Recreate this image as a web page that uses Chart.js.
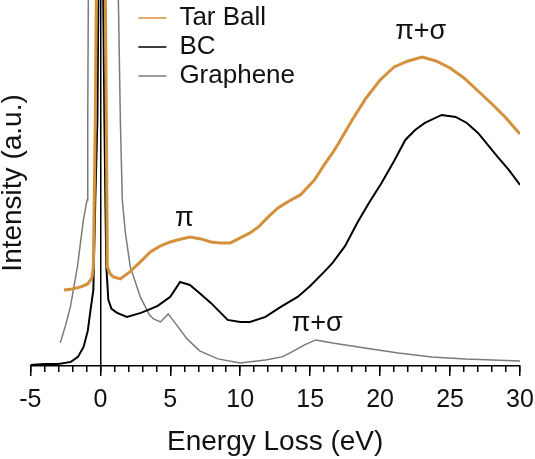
<!DOCTYPE html>
<html>
<head>
<meta charset="utf-8">
<script src="https://cdn.jsdelivr.net/npm/chart.js@4"></script>
<style>
  body { margin: 0; background: #fff; }
  #wrap { width: 535px; height: 459px; }
</style>
</head>
<body>
<div id="wrap"><canvas id="eelsChart"></canvas></div>
<script>
// spectra (energy loss in eV, intensity in a.u.)
const seriesNames = ["Tar Ball", "BC", "Graphene"];

const tarBallEv = [-2.6, -2.0, -1.4, -0.9, -0.6, -0.5, -0.36, -0.29, 0.05, 0.36, 0.43, 0.5, 0.7, 0.93, 1.43, 2.1, 2.86, 3.57, 4.3, 5, 5.5, 6.4, 7.2, 7.9, 8.6, 9.3, 10, 10.7, 11.3, 12, 12.7, 13.5, 14.3, 15.3, 16, 16.6, 17, 18, 19, 20, 21, 22, 23, 24, 25, 26, 27, 28, 29, 30];
const tarBallInt = [76, 77, 79, 82, 88, 99, 246, 366, 4000, 366, 246, 99, 92, 89, 87, 94, 104, 114, 120, 124, 126, 129, 127, 124, 123, 123, 128, 133, 139, 149, 158, 165, 171, 186, 201, 213, 222, 246, 268, 286, 299, 305, 309, 305, 298, 288, 275, 262, 248, 232];

const bcEv = [-5, -4, -3, -2.1, -1.6, -1.2, -0.9, -0.7, -0.5, -0.36, -0.21, -0.14, 0.03, 0.21, 0.29, 0.36, 0.43, 0.57, 0.8, 1.2, 1.9, 2.9, 3.6, 4.1, 5, 5.7, 6.4, 7, 7.9, 9.1, 10, 10.7, 11.8, 12.9, 14.1, 15, 16, 16.6, 17.5, 18.4, 19.2, 20.1, 21, 21.8, 22.5, 23.2, 24.4, 25.4, 26.2, 27, 28.4, 29.2, 30];
const bcInt = [1, 2, 2, 4, 9, 19, 35, 56, 76, 166, 246, 366, 5000, 366, 246, 166, 99, 66, 57, 53, 49, 53, 57, 60, 69, 84, 81, 74, 63, 46, 44, 44, 49, 59, 69, 80, 94, 103, 120, 144, 163, 183, 205, 226, 236, 243, 251, 249, 243, 233, 209, 196, 181];

const grapheneEv = [-2.86, -2.5, -2.14, -1.64, -1.21, -0.95, -0.9, -0.86, 0.2, 1.29, 1.43, 1.57, 1.79, 2.14, 2.86, 3.5, 3.8, 4.3, 4.85, 5.5, 6.2, 7.1, 8.4, 10, 11.8, 13, 13.7, 14.6, 15.4, 16.6, 18.9, 21.3, 23.7, 26.1, 30];
const grapheneInt = [23, 40, 59, 99, 146, 166, 250, 366, 4000, 366, 246, 166, 133, 99, 69, 51, 47, 44, 52, 40, 27, 15, 7, 3, 6, 9, 14, 21, 26, 23, 18, 13, 9, 7, 5];

const xTickStep = 5;
const peakTexts = ["π", "π+σ", "π+σ"];
const peakEv = [6.0, 22.9, 15.5];
const peakInt = [147, 334, 42];

const toPoints = (ev, vals) => ev.map((e, i) => ({ x: e, y: vals[i] }));

const FONT = '"Liberation Sans", Arial, Helvetica, sans-serif';
Chart.defaults.font.family = FONT;
Chart.defaults.color = "#111";

// the legend sits inside the plot, right of the zero-loss peak
const legendShift = {
    id: "legendShift",
    afterLayout(chart) {
        chart.legend.left += 105;
        chart.legend.top += 2;
    }
};

const peakLabels = {
    id: "peakLabels",
    afterDatasetsDraw(chart) {
        const { ctx, scales: { x, y } } = chart;
        ctx.save();
        ctx.font = "27px " + FONT;
        ctx.fillStyle = "#111";
        ctx.textAlign = "center";
        ctx.textBaseline = "middle";
        peakTexts.forEach((t, i) => {
            ctx.fillText(t, x.getPixelForValue(peakEv[i]), y.getPixelForValue(peakInt[i]));
        });
        ctx.restore();
    }
};

const lineSet = (label, ev, vals, color, width) => ({
    label,
    data: toPoints(ev, vals),
    borderColor: color,
    backgroundColor: color,
    borderWidth: width,
    pointRadius: 0,
    tension: 0,
    fill: false,
    xAxisID: "x",
    yAxisID: "y",
});

new Chart(document.getElementById("eelsChart"), {
    type: "line",
    data: {
        datasets: [
            lineSet(seriesNames[0], tarBallEv, tarBallInt, "#D4913C", 3),
            lineSet(seriesNames[1], bcEv, bcInt, "#000000", 2),
            lineSet(seriesNames[2], grapheneEv, grapheneInt, "#7a7a7a", 1.5),
        ]
    },
    options: {
        responsive: true,
        maintainAspectRatio: false,
        animation: false,
        layout: { padding: { left: 2, right: 15, top: 0, bottom: 0 } },
        plugins: {
            tooltip: { enabled: false },
            legend: {
                position: "chartArea",
                align: "start",
                labels: {
                    font: { size: 26 },
                    color: "#111",
                    padding: 3,
                    usePointStyle: true,
                    pointStyle: "line",
                    pointStyleWidth: 28,
                    generateLabels(chart) {
                        return Chart.defaults.plugins.legend.labels.generateLabels(chart)
                            .map(item => ({ ...item, lineWidth: 1.5 }));
                    }
                }
            }
        },
        scales: {
            x: {
                type: "linear",
                position: "bottom",
                min: -5,
                max: 30,
                grid: { drawOnChartArea: false, tickLength: 10, color: "#000", lineWidth: 1.5 },
                border: { color: "#000", width: 1.5 },
                ticks: { stepSize: xTickStep, padding: 0, font: { size: 25, lineHeight: 1.9 }, color: "#111" },
                title: {
                    display: true,
                    text: "Energy Loss (eV)",
                    font: { size: 28 },
                    color: "#111",
                    padding: { top: 2, bottom: 0 }
                }
            },
            // minor ticks every 1 eV
            xm: {
                axis: "x",
                type: "linear",
                position: { y: 0 },
                min: -5,
                max: 30,
                grid: { drawOnChartArea: false, tickLength: 6, color: "#000", lineWidth: 1.5 },
                border: { display: false },
                ticks: { stepSize: 1, display: false, maxTicksLimit: 100 }
            },
            // vertical line at zero loss
            y: {
                type: "linear",
                position: { x: 0 },
                min: 0,
                max: 366,
                grid: { display: false, drawTicks: false },
                border: { color: "#000", width: 1.5 },
                ticks: { display: false }
            },
            y2: {
                axis: "y",
                type: "linear",
                position: "left",
                grid: { display: false, drawTicks: false },
                border: { display: false },
                ticks: { display: false },
                title: {
                    display: true,
                    text: "Intensity (a.u.)",
                    font: { size: 28, lineHeight: 0.8 },
                    color: "#111",
                    padding: { top: 0, bottom: 6 }
                }
            }
        }
    },
    plugins: [legendShift, peakLabels]
});
</script>
</body>
</html>
